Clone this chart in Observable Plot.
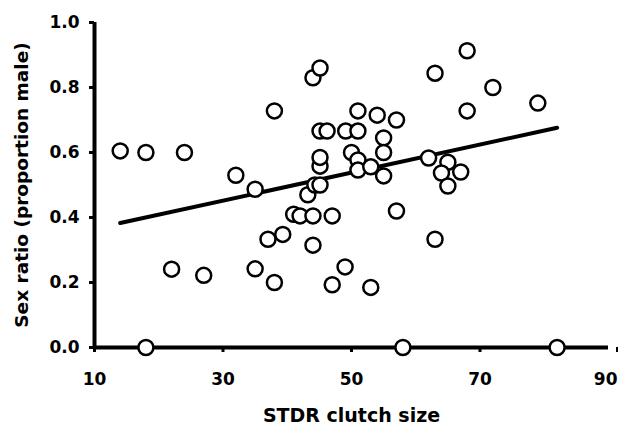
<!DOCTYPE html>
<html><head><meta charset="utf-8">
<script src="https://cdn.jsdelivr.net/npm/d3@7"></script>
<script src="https://cdn.jsdelivr.net/npm/@observablehq/plot@0.6"></script>
<style>body{margin:0;background:#fff}</style>
</head><body><div id="chart"></div>
<script>
const clutchSize = [14, 18, 24, 32, 35, 38, 22, 27, 35, 38, 37, 39.3, 41, 42, 44, 47, 44, 43.2, 44.3, 45.1,
  45.1, 45.1, 45.1, 46.2, 49.1, 51, 44, 45.1, 51, 54, 57, 55, 55, 50, 51, 51, 53, 55, 57, 49,
  47, 53, 62, 65, 64, 67, 65, 63, 68, 72, 68, 79, 63, 18, 58, 82];
const sexRatio = [0.605, 0.600, 0.600, 0.530, 0.487, 0.728, 0.241, 0.222, 0.242, 0.200, 0.333, 0.348, 0.410, 0.405, 0.405, 0.405, 0.315, 0.470, 0.500, 0.500,
  0.558, 0.585, 0.666, 0.666, 0.666, 0.666, 0.830, 0.860, 0.728, 0.715, 0.700, 0.645, 0.600, 0.600, 0.577, 0.546, 0.556, 0.528, 0.420, 0.248,
  0.193, 0.185, 0.583, 0.570, 0.537, 0.540, 0.497, 0.844, 0.913, 0.800, 0.728, 0.752, 0.333, 0, 0, 0];
const fitX = [14, 82];
const fitY = [0.383, 0.676];
const xTicks = [10, 30, 50, 70, 90];
const yTicks = [0, 0.2, 0.4, 0.6, 0.8, 1.0];
const xTitle = "STDR clutch size";
const yTitle = "Sex ratio (proportion male)";

const points = clutchSize.map((x, i) => ({x, y: sexRatio[i]}));
const fit = fitX.map((x, i) => ({x, y: fitY[i]}));
const xInner = xTicks.slice(0, -1);
const xLast = xTicks.slice(-1);

const chart = Plot.plot({
  width: 618, height: 426,
  marginLeft: 94, marginRight: 10, marginTop: 22, marginBottom: 79,
  style: {fontFamily: "'DejaVu Sans', sans-serif", fontWeight: "bold", fontSize: "17px", color: "black", background: "white"},
  x: {domain: [10, 90]},
  y: {domain: [0, 1]},
  marks: [
    Plot.axisY(yTicks, {tickSize: 5, tickPadding: 10, strokeWidth: 3, tickFormat: d3.format(".1f"), label: null, fontSize: 17, fontWeight: "bold"}),
    Plot.axisX(xInner, {tickSize: 5, tickPadding: 20, strokeWidth: 3, label: null, fontSize: 17, fontWeight: "bold"}),
    Plot.axisX(xLast, {tickSize: 5, tickPadding: 20, strokeWidth: 3, label: null, fontSize: 17, fontWeight: "bold", textAnchor: "end", dx: 9}),
    Plot.text([yTitle], {frameAnchor: "left", textAnchor: "middle", rotate: -90, dx: -72, fontSize: 18.5, fontWeight: "bold", fill: "black"}),
    Plot.text([xTitle], {frameAnchor: "bottom", textAnchor: "middle", dy: 74, fontSize: 19, fontWeight: "bold", fill: "black"}),
    Plot.ruleX([10], {y1: 0, y2: 1, strokeWidth: 4}),
    Plot.ruleY([0], {x1: 10, x2: 90, strokeWidth: 4}),
    Plot.line(fit, {x: "x", y: "y", strokeWidth: 4, stroke: "black"}),
    Plot.dot(points, {x: "x", y: "y", r: 7.5, fill: "white", stroke: "black", strokeWidth: 2.5})
  ]
});
document.getElementById("chart").append(chart);
</script>
</body></html>
